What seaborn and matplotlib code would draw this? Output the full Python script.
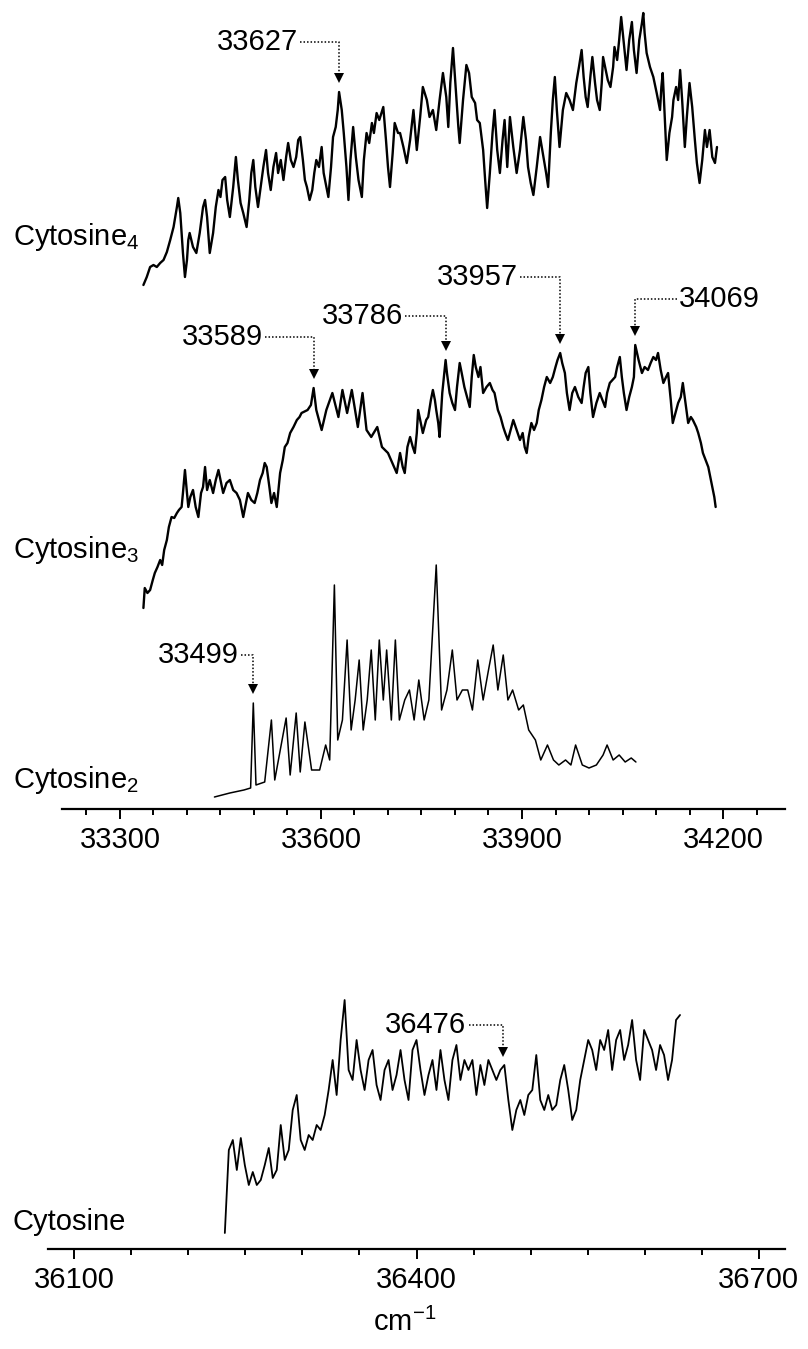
import numpy as np
import pandas as pd
import matplotlib
matplotlib.use("Agg")
import matplotlib.pyplot as plt
import seaborn as sns

# ---------------- spectra (wavenumber in cm^-1, intensity in arb. units) ----------------
c4_wn = [33335, 33340, 33345, 33350, 33355, 33360, 33365, 33370, 33375, 33380, 33385, 33387,
         33390, 33392, 33394, 33397, 33400, 33402, 33404, 33409, 33414, 33419, 33424, 33427,
         33430, 33434, 33439, 33443, 33447, 33450, 33453, 33457, 33460, 33464, 33469, 33473,
         33476, 33480, 33484, 33489, 33493, 33496, 33499, 33502, 33506, 33510, 33514, 33518,
         33521, 33525, 33529, 33533, 33536, 33540, 33544, 33548, 33551, 33555, 33559, 33563,
         33566, 33569, 33573, 33576, 33579, 33583, 33587, 33590, 33593, 33597, 33601, 33604,
         33608, 33611, 33615, 33618, 33622, 33625, 33627, 33631, 33634, 33638, 33641, 33644,
         33648, 33652, 33656, 33661, 33664, 33668, 33672, 33676, 33679, 33683, 33687, 33693,
         33697, 33700, 33703, 33707, 33710, 33715,
         33718, 33723, 33728, 33733, 33738, 33743, 33748, 33752, 33758, 33762, 33767, 33772,
         33777, 33782, 33787, 33790, 33793, 33797, 33801, 33805, 33807, 33812, 33817, 33821,
         33825, 33830, 33833, 33837, 33842, 33845, 33848, 33852, 33856, 33859, 33863, 33867,
         33871, 33874, 33878, 33882, 33887, 33892, 33897, 33902, 33906, 33909, 33913, 33917,
         33922, 33927, 33932, 33936, 33939, 33943, 33946, 33949, 33952, 33956, 33961, 33966,
         33971, 33976, 33981, 33985, 33989, 33992, 33995, 33998, 34002, 34005, 34009, 34012,
         34016, 34019, 34021, 34025, 34028, 34032, 34036, 34038, 34042, 34045, 34048, 34052,
         34056, 34060, 34064, 34067, 34071, 34075, 34079, 34081, 34083, 34086, 34091, 34096,
         34101, 34106, 34108, 34110, 34113, 34116, 34120, 34124, 34126, 34130, 34133, 34136,
         34139, 34143, 34146, 34150, 34154, 34158, 34161, 34165, 34169, 34173, 34176, 34180,
         34184, 34188, 34191]
c4_int = [5, 13, 23, 25, 23, 27, 30, 38, 50, 63, 83, 92,
          77, 57, 37, 13, 30, 50, 57, 43, 37, 57, 83, 90,
          73, 37, 57, 83, 100, 93, 110, 113, 90, 73, 103, 133,
          110, 87, 77, 63, 90, 117, 130, 103, 83, 103, 123, 140,
          117, 100, 123, 137, 117, 130, 110, 133, 147, 130, 123, 133,
          150, 153, 130, 110, 103, 90, 100, 117, 130, 123, 143, 117,
          103, 93, 123, 153, 163, 180, 198, 180, 157, 123, 90, 130,
          163, 133, 110, 93, 130, 157, 147, 167, 157, 177, 170, 183,
          150, 123, 103, 137, 167, 157,
          157, 143, 127, 150, 180, 140, 173, 203, 190, 173, 180, 160,
          190, 217, 193, 163, 207, 242, 203, 163, 147, 190, 225, 217,
          193, 187, 170, 167, 140, 110, 82, 117, 157, 180, 140, 117,
          150, 170, 123, 173, 143, 117, 140, 173, 150, 123, 107, 95,
          123, 153, 133, 117, 103, 157, 190, 213, 180, 143, 180, 197,
          190, 180, 207, 223, 240, 213, 193, 183, 213, 233, 207, 190,
          180, 207, 233, 220, 210, 203, 223, 243, 230, 250, 273, 247,
          220, 250, 268, 240, 217, 250, 267, 277, 257, 237, 223, 213,
          197, 180, 203, 217, 173, 130, 157, 173, 190, 203, 190, 220,
          190, 143, 173, 207, 183, 150, 127, 107, 130, 160, 143, 160,
          133, 127, 143]

c3_wn = [33335, 33337, 33341, 33345, 33349, 33352, 33356, 33360, 33363, 33366, 33370, 33373,
         33377, 33381, 33385, 33388, 33392, 33394, 33397, 33400, 33402, 33405, 33409, 33413,
         33417, 33421, 33424, 33427, 33430, 33434, 33439, 33443, 33447, 33450, 33454, 33459,
         33464, 33469, 33474, 33479, 33484, 33488, 33491, 33496, 33501, 33505, 33509, 33513,
         33516, 33519, 33523, 33526, 33530, 33534, 33536, 33539, 33543, 33546, 33550, 33554,
         33559, 33564, 33568, 33571, 33580, 33585, 33589, 33593, 33601, 33608, 33617, 33626,
         33632, 33639, 33646, 33655, 33662, 33668, 33675, 33684, 33691, 33700, 33713,
         33718, 33722, 33725, 33729, 33733, 33737, 33740, 33743, 33745, 33749, 33752, 33757,
         33760, 33764, 33767, 33770, 33772, 33775, 33777, 33781, 33786, 33788, 33792, 33796,
         33800, 33803, 33807, 33810, 33814, 33818, 33822, 33825, 33828, 33831, 33835, 33838,
         33842, 33847, 33852, 33856, 33859, 33862, 33864, 33868, 33872, 33875, 33879, 33883,
         33887, 33892, 33897, 33901, 33904, 33907, 33910, 33914, 33918, 33922, 33925, 33929,
         33933, 33937, 33942, 33946, 33950, 33953, 33957, 33960, 33964, 33967, 33971, 33975,
         33979, 33984, 33989, 33992, 33995, 33999, 34002, 34006, 34011, 34016, 34020, 34024,
         34027, 34031, 34035, 34039, 34042, 34046, 34049, 34052, 34056, 34060, 34064, 34067,
         34069, 34074, 34079, 34083, 34088, 34092, 34096, 34100, 34103, 34107, 34111, 34115,
         34118, 34122, 34125, 34129, 34133, 34137, 34140, 34144, 34148, 34152, 34155, 34160,
         34163, 34167, 34170, 34174, 34178, 34181, 34185, 34187, 34189]
c3_int = [2, 22, 17, 20, 30, 37, 43, 50, 45, 60, 70, 83,
          93, 92, 97, 100, 103, 117, 140, 117, 103, 113, 120, 103,
          93, 117, 123, 143, 120, 130, 117, 130, 140, 130, 117, 127,
          130, 120, 117, 110, 93, 107, 117, 110, 107, 117, 130, 137,
          147, 143, 123, 107, 117, 103, 117, 137, 150, 163, 167, 177,
          183, 190, 193, 197, 200, 205, 222, 200, 180, 200, 217, 193,
          220, 197, 220, 183, 217, 180, 173, 183, 163, 157, 137,
          157, 143, 137, 163, 173, 163, 157, 177, 200, 187, 177, 190,
          193, 210, 220, 210, 200, 187, 173, 217, 250, 237, 217, 207,
          200, 223, 247, 237, 223, 213, 203, 233, 255, 243, 233, 243,
          217, 223, 227, 220, 217, 207, 200, 193, 183, 177, 170, 180,
          190, 180, 170, 177, 163, 157, 173, 187, 180, 187, 200, 210,
          223, 233, 227, 233, 243, 250, 257, 247, 237, 217, 200, 217,
          223, 213, 207, 223, 237, 243, 217, 193, 207, 217, 210, 203,
          217, 227, 230, 233, 243, 253, 233, 217, 200, 213, 223, 233,
          265, 250, 237, 243, 240, 247, 253, 250, 257, 240, 227, 233,
          237, 210, 187, 197, 207, 213, 227, 207, 187, 193, 190, 183,
          177, 167, 157, 150, 143, 133, 120, 113, 103]

c2_wn = [33441, 33464, 33485, 33495, 33499, 33503, 33516, 33526, 33531, 33548, 33554, 33563,
         33569, 33576, 33586, 33598, 33607, 33613, 33620, 33625, 33632, 33639, 33645, 33651,
         33657, 33663, 33669, 33675, 33681, 33687, 33693, 33698, 33705, 33711, 33717, 33725,
         33732, 33739, 33746, 33754, 33761, 33772, 33780, 33788, 33796, 33803, 33811, 33819,
         33826, 33834, 33842, 33850, 33857, 33864, 33872, 33879, 33886, 33895, 33902, 33910,
         33920, 33928, 33938, 33947, 33955, 33965, 33973, 33980, 33990, 34000, 34011, 34021,
         34027, 34036, 34045, 34054, 34063, 34070]
c2_int = [3, 7, 10, 12, 97, 15, 18, 80, 20, 82, 25, 87,
          28, 78, 30, 30, 55, 40, 215, 60, 80, 160, 70, 100,
          140, 70, 100, 150, 80, 160, 100, 150, 80, 160, 80, 100,
          110, 80, 120, 80, 100, 235, 90, 110, 150, 100, 110, 110,
          90, 140, 100, 130, 155, 110, 145, 100, 110, 90, 95, 70,
          60, 40, 55, 40, 35, 40, 35, 55, 35, 32, 35, 45,
          55, 40, 45, 38, 42, 38]

# Cytosine monomer, sampled every 3.5 cm^-1 from 36232 cm^-1
c1_start, c1_step = 36232, 3.5
c1_int = [7, 90, 100, 70, 102, 75, 55, 68, 55, 60, 75, 92, 62, 70, 115, 80, 90, 130, 145, 100,
          90, 105, 100, 115, 110, 125, 150, 180, 145, 200, 240, 170, 160, 200, 170, 150, 180, 190,
          155, 140, 170, 180, 150, 165, 190, 160, 140, 190, 200, 170, 145, 165, 180, 150, 190, 160,
          140, 180, 195, 160, 180, 170, 180, 145, 175, 155, 180, 170, 160, 170, 175, 140, 110, 130,
          140, 125, 145, 150, 185, 140, 130, 145, 130, 135, 160, 175, 150, 120, 130, 160, 180, 200,
          190, 170, 200, 190, 210, 170, 200, 210, 180, 195, 220, 180, 160, 210, 200, 190, 170, 195,
          185, 160, 180, 220, 225]
c1_wn = c1_start + c1_step * np.arange(len(c1_int))

# labelled band positions
c4_peaks = [33627]
c3_peaks = [33589, 33786, 33957, 34069]
c2_peaks = [33499]
c1_peaks = [36476]

top_ticks = [33300, 33600, 33900, 34200]
bot_ticks = [36100, 36400, 36700]

# ---------------- style ----------------
sns.set_theme(style="white")
plt.rcParams['font.family'] = ['Liberation Sans', 'DejaVu Sans']
plt.rcParams['mathtext.fontset'] = 'custom'
plt.rcParams['mathtext.rm'] = 'Liberation Sans'
plt.rcParams['mathtext.it'] = 'Liberation Sans:italic'
plt.rcParams['mathtext.bf'] = 'Liberation Sans:bold'
plt.rcParams['text.color'] = 'black'
plt.rcParams['axes.labelcolor'] = 'black'
plt.rcParams['xtick.color'] = 'black'
FS = 21

W, H = 808, 1349
fig = plt.figure(figsize=(W / 100, H / 100), dpi=100)


def px_axes(x0, x1, y0, y1):
    return fig.add_axes([x0 / W, 1 - y1 / H, (x1 - x0) / W, (y1 - y0) / H])


ax_top = px_axes(62, 785, 0, 809)
ax_bot = px_axes(48, 785, 860, 1249)

offsets = {"c4": 519, "c3": 199, "c2": 9, "c1": 9}


def draw(ax, wn, inten, off, lw):
    df = pd.DataFrame({"wn": np.asarray(wn, float), "y": np.asarray(inten, float) + off})
    sns.lineplot(data=df, x="wn", y="y", ax=ax, color="black", lw=lw,
                 sort=False, estimator=None)
    return df


d4 = draw(ax_top, c4_wn, c4_int, offsets["c4"], 1.7)
d3 = draw(ax_top, c3_wn, c3_int, offsets["c3"], 1.7)
d2 = draw(ax_top, c2_wn, c2_int, offsets["c2"], 1.1)
d1 = draw(ax_bot, c1_wn, c1_int, offsets["c1"], 1.3)

for ax, ticks, minor in ((ax_top, top_ticks, 50), (ax_bot, bot_ticks, 50)):
    for s in ("left", "right", "top"):
        ax.spines[s].set_visible(False)
    ax.spines["bottom"].set_linewidth(1.6)
    ax.spines["bottom"].set_color("black")
    ax.set_xticks(ticks)
    ax.set_xticks(np.arange(ticks[0] - minor * 2, ticks[-1] + minor * 2, minor), minor=True)
    ax.tick_params(axis="x", which="major", direction="out", length=7, width=1.4,
                   colors="black", labelsize=FS, pad=5, bottom=True)
    ax.tick_params(axis="x", which="minor", direction="out", length=4, width=1.4,
                   colors="black", bottom=True)
    ax.set_yticks([])
    ax.set_xlabel("")
    ax.set_ylabel("")
    ax.patch.set_alpha(0)

# view limits are fixed after the ticks so the tick lists cannot widen them
ax_top.set_xlim(33213.5, 34292.5)
ax_top.set_ylim(0, 809)
ax_bot.set_xlim(36077, 36723)
ax_bot.set_ylim(0, 389)


def mark(ax, df, peak, text_x, level, side="left", gap=11):
    """Dotted leader from a label down to a band maximum, ending in an arrowhead."""
    top = np.interp(peak, df["wn"], df["y"])
    tip = top + gap
    ax.plot([text_x, peak, peak], [level, level, tip + 4], color="black",
            lw=1.1, ls=(0, (1, 1.3)))
    ax.plot([peak], [tip + 3], marker="v", color="black", ms=6.5, mew=0)
    if side == "left":
        ax.text(text_x - 3, level, str(peak), ha="right", va="center", fontsize=FS)
    else:
        ax.text(text_x + 3, level, str(peak), ha="left", va="center", fontsize=FS)


mark(ax_top, d4, c4_peaks[0], 33569, 767)
mark(ax_top, d3, c3_peaks[0], 33516, 472)
mark(ax_top, d3, c3_peaks[1], 33725, 493)
mark(ax_top, d3, c3_peaks[2], 33897, 532)
mark(ax_top, d3, c3_peaks[3], 34131, 510, side="right")
mark(ax_top, d2, c2_peaks[0], 33480, 154)
mark(ax_bot, d1, c1_peaks[0], 36446, 224)

# spectrum names at the left margin
fig.text(13 / W, 1 - 237 / H, "Cytosine$_\\mathregular{4}$", fontsize=FS, va="center", ha="left")
fig.text(13 / W, 1 - 550 / H, "Cytosine$_\\mathregular{3}$", fontsize=FS, va="center", ha="left")
fig.text(13 / W, 1 - 780 / H, "Cytosine$_\\mathregular{2}$", fontsize=FS, va="center", ha="left")
fig.text(13 / W, 1 - 1222 / H, "Cytosine", fontsize=FS, va="center", ha="left")

fig.text(405 / W, 1 - 1322 / H, "cm$^{\\mathregular{-1}}$", fontsize=FS, ha="center", va="center")

fig.savefig("out.png", dpi=100)
